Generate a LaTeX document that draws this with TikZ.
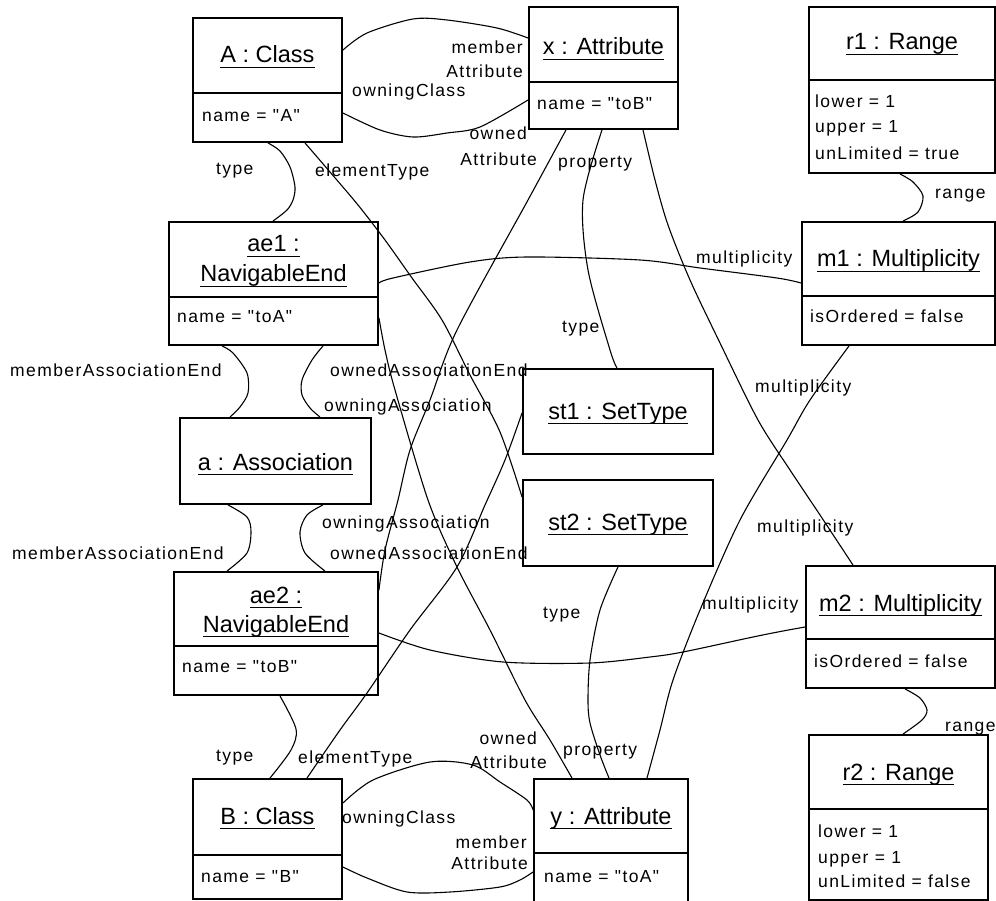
\documentclass[tikz,border=0pt]{standalone}
\usepackage{fontspec}
\setmainfont{Liberation Sans}
\newfontfamily\tfont{Liberation Sans}
\newfontfamily\lfont[LetterSpace=8]{Liberation Sans}
\usetikzlibrary{calc}
\newcommand\ulx[1]{\setbox0\hbox{#1}\rlap{\rule[-5pt]{\wd0}{1pt}}\box0}
\begin{document}
\begin{tikzpicture}[x=1pt,y=-1pt,
  obj/.style={draw, line width=1.9pt, inner sep=0pt},
  div/.style={line width=1.5pt},
  conn/.style={line width=1.1pt},
  ttl/.style={font=\tfont\fontsize{23.5}{26}\selectfont, inner sep=0pt, anchor=base},
  lbl/.style={font=\lfont\fontsize{17.5}{20}\selectfont, inner sep=0pt, anchor=base west},
  lble/.style={lbl, anchor=base east}]
\useasboundingbox[fill=white] (0,0) rectangle (996,901);

% ---------- object boxes ----------
\node[obj, minimum width=149pt, minimum height=124pt] (A)   at (267.5,80)  {};
\node[obj, minimum width=149pt, minimum height=122pt] (x)   at (603.5,68)  {};
\node[obj, minimum width=186pt, minimum height=166pt] (r1)  at (902,90)    {};
\node[obj, minimum width=209pt, minimum height=123pt] (ae1) at (273.5,283.5) {};
\node[obj, minimum width=193pt, minimum height=123pt] (m1)  at (898.5,283.5) {};
\node[obj, minimum width=190pt, minimum height=85pt]  (st1) at (618,411.5) {};
\node[obj, minimum width=191pt, minimum height=86pt]  (a)   at (275.5,461) {};
\node[obj, minimum width=190pt, minimum height=86pt]  (st2) at (618,523)   {};
\node[obj, minimum width=204pt, minimum height=123pt] (ae2) at (276,633.5) {};
\node[obj, minimum width=189pt, minimum height=122pt] (m2)  at (900.5,627) {};
\node[obj, minimum width=149pt, minimum height=120pt] (B)   at (267.5,839) {};
\node[obj, minimum width=154pt, minimum height=126pt] (y)   at (611,842)   {};
\node[obj, minimum width=179pt, minimum height=165pt] (r2)  at (898.5,817.5) {};

% dividers
\draw[div] (A.west |- 0,93) -- (A.east |- 0,93);
\draw[div] (x.west |- 0,82) -- (x.east |- 0,82);
\draw[div] (r1.west |- 0,80) -- (r1.east |- 0,80);
\draw[div] (ae1.west |- 0,297) -- (ae1.east |- 0,297);
\draw[div] (m1.west |- 0,296) -- (m1.east |- 0,296);
\draw[div] (ae2.west |- 0,646) -- (ae2.east |- 0,646);
\draw[div] (m2.west |- 0,639) -- (m2.east |- 0,639);
\draw[div] (B.west |- 0,855) -- (B.east |- 0,855);
\draw[div] (y.west |- 0,853) -- (y.east |- 0,853);
\draw[div] (r2.west |- 0,809) -- (r2.east |- 0,809);

% titles
\node[ttl] (tA)   at (267.5,63)  {\ulx{A : Class}};
\node[ttl] (tx)   at (603.5,55)  {\ulx{x : Attribute}};
\node[ttl] (tr1)  at (902,50)    {\ulx{r1 : Range}};
\node[ttl] (tae1a) at (273.5,252) {\ulx{ae1 :}};
\node[ttl] (tae1b) at (273.5,282) {\ulx{NavigableEnd}};
\node[ttl] (tm1)  at (898.5,267) {\ulx{m1 : Multiplicity}};
\node[ttl] (tst1) at (618,419)   {\ulx{st1 : SetType}};
\node[ttl] (ta)   at (275.5,470) {\ulx{a : Association}};
\node[ttl] (tst2) at (618,530)   {\ulx{st2 : SetType}};
\node[ttl] (tae2a) at (276,603)  {\ulx{ae2 :}};
\node[ttl] (tae2b) at (276,632)  {\ulx{NavigableEnd}};
\node[ttl] (tm2)  at (900.5,611) {\ulx{m2 : Multiplicity}};
\node[ttl] (tB)   at (267.5,824) {\ulx{B : Class}};
\node[ttl] (ty)   at (611,824)   {\ulx{y : Attribute}};
\node[ttl] (tr2)  at (898.5,780) {\ulx{r2 : Range}};

% attributes
\node[lbl] (vA)   at (202,122) {name = "A"};
\node[lbl] (vx)   at (537,110) {name = "toB"};
\node[lbl] (vr1a) at (815,108) {lower = 1};
\node[lbl] (vr1b) at (815,133) {upper = 1};
\node[lbl] (vr1c) at (815,160) {unLimited = true};
\node[lbl] (vm1)  at (810,323) {isOrdered = false};
\node[lbl] (vae1) at (177,323) {name = "toA"};
\node[lbl] (vae2) at (182,672) {name = "toB"};
\node[lbl] (vm2)  at (814,667) {isOrdered = false};
\node[lbl] (vB)   at (201,882) {name = "B"};
\node[lbl] (vy)   at (544,882) {name = "toA"};
\node[lbl] (vr2a) at (818,837) {lower = 1};
\node[lbl] (vr2b) at (818,863) {upper = 1};
\node[lbl] (vr2c) at (818,887) {unLimited = false};

% ---------- connectors ----------
\draw[conn] plot[smooth, tension=0.5] coordinates {(A.east |- 0,50) (367,33) (413,19) (447,20) (497,28) (x.west |- 0,38)};
\draw[conn] plot[smooth, tension=0.5] coordinates {(A.east |- 0,113) (380,130) (413,137) (447,133) (480,127) (x.west |- 0,100)};
\draw[conn] plot[smooth, tension=0.5] coordinates {(A.south -| 268,0) (280,151) (290,167) (295,187) (293,200) (287,210) (ae1.north -| 273,0)};
\draw[conn] plot[smooth, tension=0.5] coordinates {(A.south -| 305,0) (330,172) (358,205) (385,240) (412,278) (442,320) (470,375) (500,432) (st2.west |- 0,497)};
\draw[conn] plot[smooth, tension=0.5] coordinates {(ae1.south -| 222,0) (233,353) (247,373) (248,393) (240,407) (a.north -| 230,0)};
\draw[conn] plot[smooth, tension=0.5] coordinates {(ae1.south -| 323,0) (312,360) (302,380) (302,395) (310,408) (a.north -| 320,0)};
\draw[conn] plot[smooth, tension=0.5] coordinates {(a.south -| 228,0) (247,517) (251,532) (247,553) (ae2.north -| 227,0)};
\draw[conn] plot[smooth, tension=0.5] coordinates {(a.south -| 323,0) (307,515) (300,532) (305,553) (ae2.north -| 325,0)};
\draw[conn] plot[smooth, tension=0.5] coordinates {(ae1.east |- 0,283) (393,278) (470,262) (527,257) (640,260) (700,268) (777,278) (m1.west |- 0,283)};
\draw[conn] plot[smooth, tension=0.5] coordinates {(ae2.east |- 0,633) (430,650) (503,662) (590,663) (650,657) (683,652) (753,637) (783,631) (m2.west |- 0,627)};
\draw[conn] plot[smooth, tension=0.5] coordinates {(ae2.south -| 280,0) (296,729) (291,750) (B.north -| 270,0)};
\draw[conn] plot[smooth, tension=0.5] coordinates {(st1.west |- 0,413) (505,460) (485,505) (457,567) (410,630) (367,693) (340,730) (B.north -| 307,0)};
\draw[conn] plot[smooth, tension=0.5] coordinates {(B.east |- 0,803) (373,780) (430,762) (473,765) (500,782) (527,800) (y.west |- 0,810)};
\draw[conn] plot[smooth, tension=0.5] coordinates {(B.east |- 0,867) (367,878) (407,892) (450,892) (500,887) (520,880) (y.west |- 0,872)};
\draw[conn] plot[smooth, tension=0.5] coordinates {(x.south -| 566,0) (528,200) (457,330) (430,400) (410,450) (398,500) (385,550) (ae2.east |- 0,590)};
\draw[conn] plot[smooth, tension=0.5] coordinates {(x.south -| 602,0) (583,200) (588,270) (610,350) (st1.north -| 617,0)};
\draw[conn] plot[smooth, tension=0.5] coordinates {(x.south -| 643,0) (655,180) (668,225) (690,280) (720,343) (758,420) (790,470) (820,515) (m2.north -| 853,0)};
\draw[conn] plot[smooth, tension=0.5] coordinates {(m1.south -| 849,0) (810,400) (787,440) (740,520) (700,610) (673,680) (660,730) (y.north -| 647,0)};
\draw[conn] plot[smooth, tension=0.5] coordinates {(st2.south -| 618,0) (600,610) (590,660) (588,700) (590,723) (600,755) (y.north -| 609,0)};
\draw[conn] plot[smooth, tension=0.5] coordinates {(ae1.east |- 0,318) (385,350) (395,390) (428,500) (457,567) (490,630) (525,700) (550,740) (y.north -| 572,0)};
\draw[conn] plot[smooth, tension=0.5] coordinates {(r1.south -| 900,0) (913,182) (923,196) (918,212) (m1.north -| 903,0)};
\draw[conn] plot[smooth, tension=0.5] coordinates {(m2.south -| 905,0) (920,698) (927,710) (922,720) (r2.north -| 903,0)};

% ---------- role labels ----------
\node[lble] (l1a) at (523,54) {member};
\node[lble] (l1b) at (523,78) {Attribute};
\node[lbl]  (l2)  at (352,97) {owningClass};
\node[lble] (l3a) at (527,140) {owned};
\node[lble] (l3b) at (537,166) {Attribute};
\node[lbl]  (l4)  at (216,175) {type};
\node[lbl]  (l5)  at (315,177) {elementType};
\node[lbl]  (l6)  at (558,168) {property};
\node[lbl]  (l7)  at (935,199) {range};
\node[lbl]  (l8)  at (696,264) {multiplicity};
\node[lbl]  (l9)  at (562,333) {type};
\node[lbl]  (l10) at (755,392) {multiplicity};
\node[lbl]  (l11) at (10,376)  {memberAssociationEnd};
\node[lbl]  (l12) at (330,376) {ownedAssociationEnd};
\node[lbl]  (l13) at (324,411) {owningAssociation};
\node[lbl]  (l14) at (322,528) {owningAssociation};
\node[lbl]  (l15) at (330,559) {ownedAssociationEnd};
\node[lbl]  (l16) at (12,559)  {memberAssociationEnd};
\node[lbl]  (l17) at (757,532) {multiplicity};
\node[lbl]  (l18) at (543,618) {type};
\node[lbl]  (l19) at (702,609) {multiplicity};
\node[lbl]  (l20) at (945,731) {range};
\node[lbl]  (l21) at (216,761) {type};
\node[lbl]  (l22) at (298,763) {elementType};
\node[lble] (l23a) at (537,744) {owned};
\node[lble] (l23b) at (547,768) {Attribute};
\node[lbl]  (l24) at (563,755) {property};
\node[lbl]  (l25) at (342,823) {owningClass};
\node[lble] (l26a) at (527,848) {member};
\node[lble] (l26b) at (528,869) {Attribute};
\end{tikzpicture}
\end{document}
